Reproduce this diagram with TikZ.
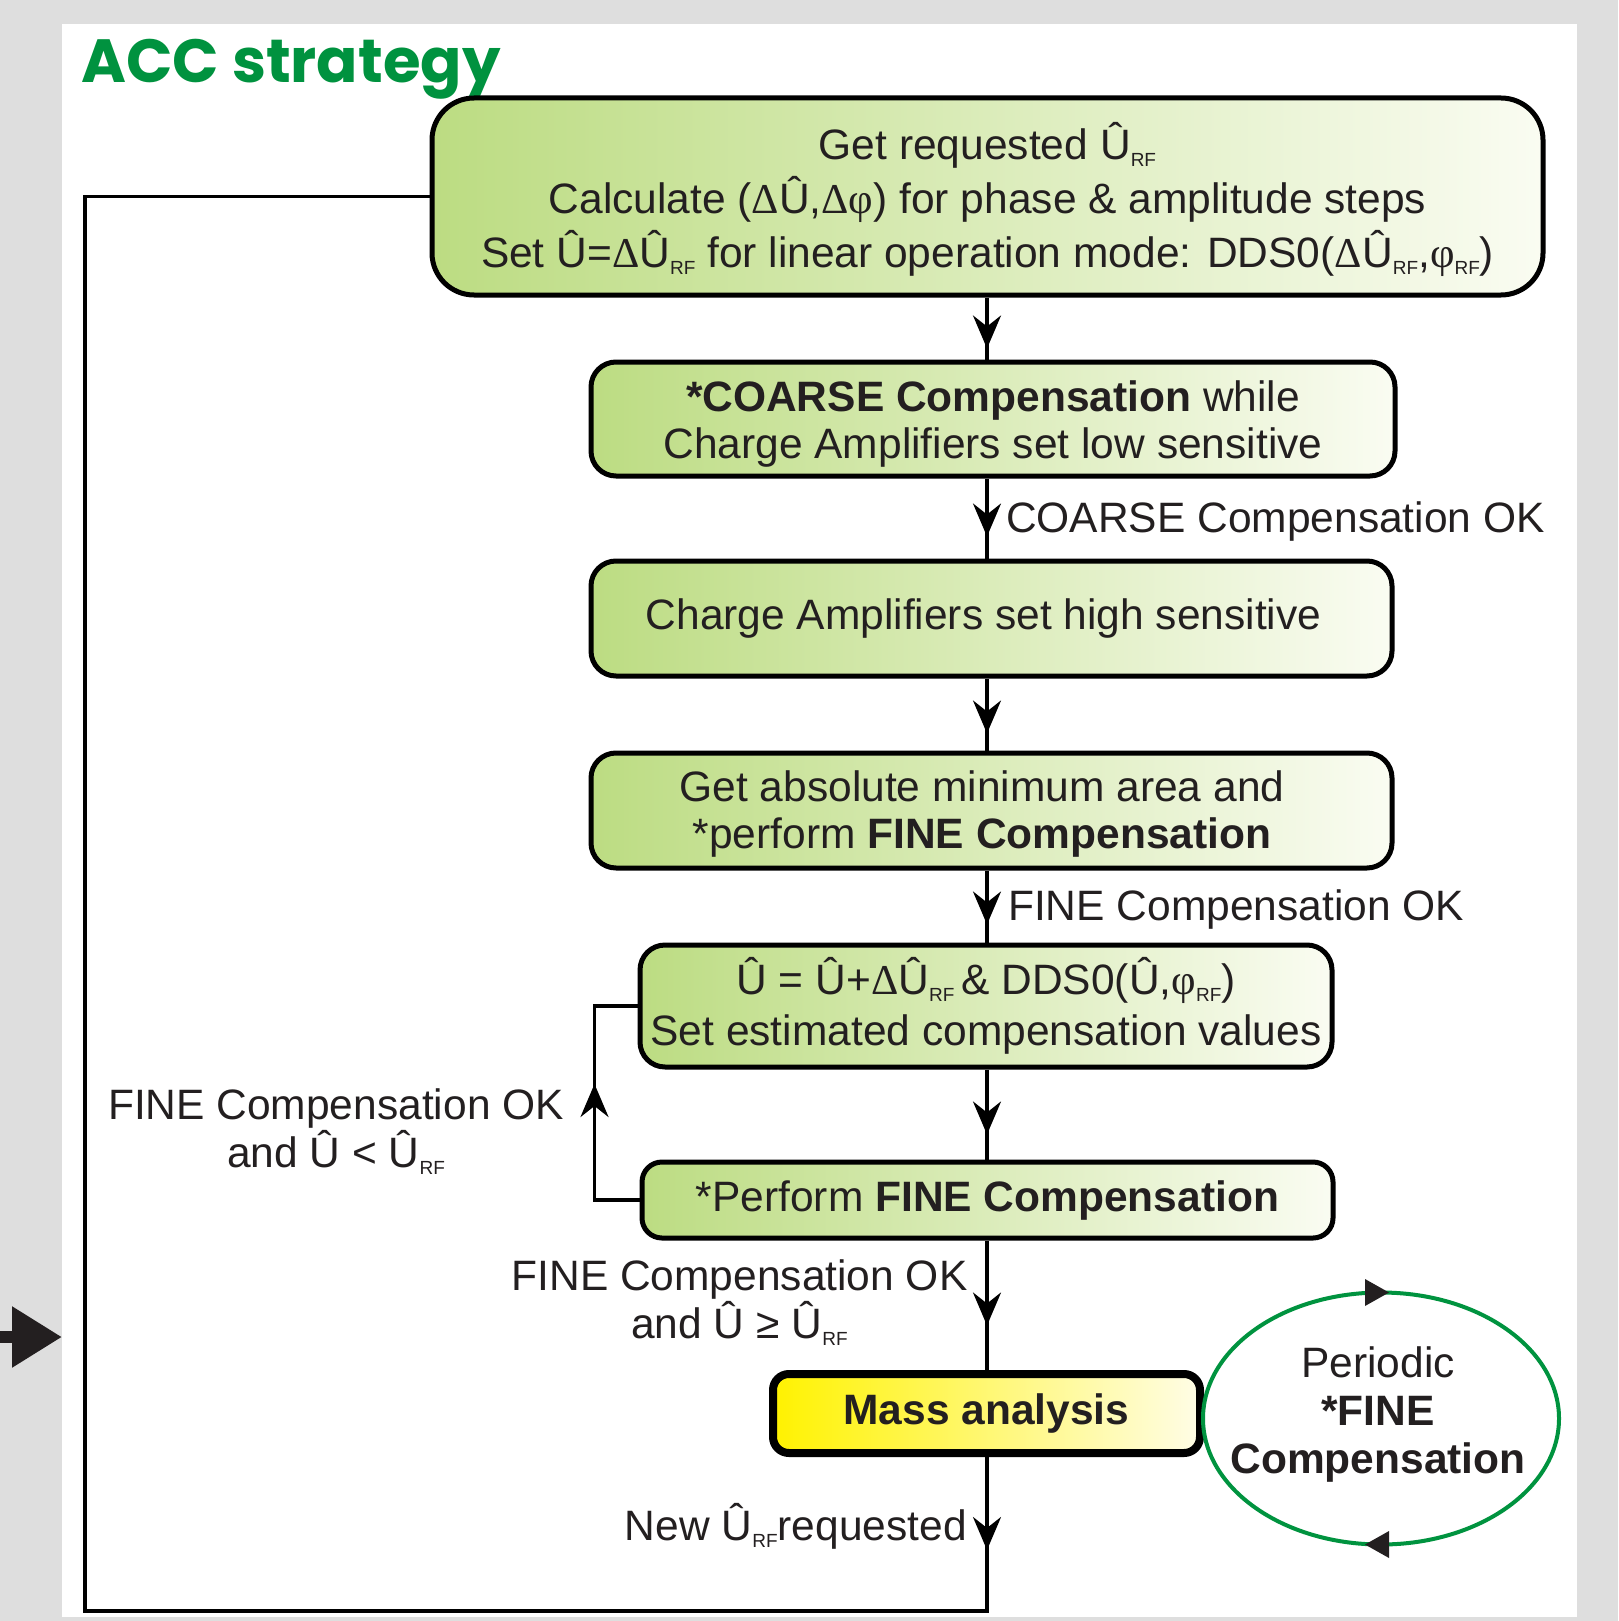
\documentclass[tikz,border=0pt]{standalone}
\usepackage{fontspec}
\setmainfont{Liberation Sans}
\newfontfamily\grfont{Liberation Serif}
\newfontfamily\titlefont{Poppins}
\usetikzlibrary{arrows.meta,shapes.geometric,decorations.markings}
\definecolor{txt}{HTML}{231F20}
\definecolor{titlegreen}{HTML}{00923F}
\definecolor{ellgreen}{HTML}{00933F}
\definecolor{bgL}{RGB}{188,220,130}
\definecolor{bgR}{RGB}{250,252,242}
\definecolor{yL}{RGB}{255,242,0}
\definecolor{yR}{RGB}{255,253,230}
\definecolor{panelgray}{HTML}{DEDEDE}
\newcommand\sub[1]{\raisebox{-7pt}{\fontsize{19}{19}\selectfont #1}}
\newcommand\gr[1]{{\grfont #1}}
\newcommand\tallstrut[1]{\rule{0pt}{#1}}
\begin{document}
\begin{tikzpicture}[x=1pt,y=-1pt,
  stepbox/.style={draw=black, line width=5pt, rounded corners=25pt, left color=bgL, right color=bgR,
    inner sep=0pt, align=center, font=\fontsize{42.5}{47}\selectfont, text=txt},
  massbox/.style={draw=black, line width=8pt, rounded corners=16pt, left color=yL, right color=yR,
    inner sep=0pt, align=center, font=\fontsize{42.5}{47}\selectfont\bfseries, text=txt},
  conn/.style={line width=3.5pt, draw=black},
  midarrow/.style={postaction={decorate,decoration={markings,mark=at position #1 with {\arrow{Stealth[length=33pt,width=28pt,inset=11pt]}}}}},
  lbl/.style={inner sep=0pt, text=txt, align=center, font=\fontsize{42.5}{48}\selectfont}]
\useasboundingbox (0,0) rectangle (1618,1621);
\fill[panelgray] (0,0) rectangle (1618,1621);
\fill[white] (62,24) rectangle (1577,1617);

\node[anchor=base west, inner sep=0pt, text=titlegreen, font=\titlefont\bfseries\fontsize{61}{61}\selectfont] (title) at (81,83) {ACC strategy};

\coordinate (axis) at (987,0);

\node[stepbox, rounded corners=42pt, minimum width=1111pt, minimum height=197pt, font=\fontsize{42.5}{54}\selectfont] (b1) at (987.5,196.5)
  {\tallstrut{43pt}Get requested Û\sub{RF}\\
   Calculate (\gr{Δ}Û,\gr{Δφ}) for phase \& amplitude steps\\
   Set Û=\gr{Δ}Û\sub{RF} for linear operation mode: DDS0(\gr{Δ}Û\sub{RF},\gr{φ}\sub{RF})};
\node[stepbox, minimum width=804pt, minimum height=114pt] (b2) at (993,419)
  {\tallstrut{40pt}\textbf{*COARSE Compensation} while\\Charge Amplifiers set low sensitive};
\node[stepbox, minimum width=801pt, minimum height=115pt] (b3) at (991.5,618.5)
  {\hspace*{-16pt}Charge Amplifiers set high sensitive};
\node[stepbox, minimum width=801pt, minimum height=115pt] (b4) at (991.5,810.5)
  {\tallstrut{38pt}\hspace*{-19pt}Get absolute minimum area and\\\hspace*{-19pt}*perform \textbf{FINE Compensation}};
\node[stepbox, minimum width=692pt, minimum height=122pt, font=\fontsize{42.5}{51}\selectfont] (b5) at (986,1006)
  {Û = Û+\gr{Δ}Û\sub{RF}\,\& DDS0(Û,\gr{φ}\sub{RF})\\Set estimated compensation values};
\node[stepbox, rounded corners=20pt, minimum width=691pt, minimum height=76pt] (b6) at (987.5,1200)
  {*Perform \textbf{FINE Compensation}};
\node[massbox, minimum width=427pt, minimum height=79pt] (mass) at (986.5,1413.5) {Mass analysis};

\node[ellipse, draw=ellgreen, line width=4pt, minimum width=356pt, minimum height=252pt, inner sep=0pt] (ell) at (1381,1418.5) {};
\node[lbl, anchor=north, font=\fontsize{42.5}{48}\selectfont] (elltxt) at (1378,1346) {Periodic\\\textbf{*FINE}\\\textbf{Compensation}};
\fill[txt] (1365,1279) -- (1389,1292.5) -- (1365,1306) -- cycle;
\fill[txt] (1389,1531) -- (1365,1544.5) -- (1389,1558) -- cycle;

% connectors
\draw[conn, midarrow=51pt] (b1.south -| axis) -- (b2.north -| axis);
\draw[conn, midarrow=58pt] (b2.south -| axis) -- (b3.north -| axis);
\draw[conn, midarrow=55pt] (b3.south -| axis) -- (b4.north -| axis);
\draw[conn, midarrow=54pt] (b4.south -| axis) -- (b5.north -| axis);
\draw[conn, midarrow=65pt] (b5.south -| axis) -- (b6.north -| axis);
\draw[conn, midarrow=85pt] (b6.south -| axis) -- (mass.north -| axis);

\coordinate (loopx) at (594.5,0);
\draw[conn, midarrow=161pt] (b6.west) -- (b6.west -| loopx) -- (b5.west -| loopx) -- (b5.west);

\coordinate (fbBR) at (987,1611);
\coordinate (fbBL) at (85,1611);
\draw[conn, midarrow=93pt] (mass.south -| axis) -- (fbBR) -- (fbBL) -- (fbBL |- b1.west) -- (b1.west);

% labels
\node[lbl, anchor=base west] (lc) at (1006,532) {COARSE Compensation OK};
\node[lbl, anchor=base west] (lf) at (1008,920) {FINE Compensation OK};
\node[lbl, anchor=north] (lloop) at (336,1088) {FINE Compensation OK\\and Û < Û\sub{RF}};
\node[lbl, anchor=north] (ldone) at (739.5,1259) {FINE Compensation OK\\and Û ≥ Û\sub{RF}};
\node[lbl, anchor=base east] (lnew) at (967,1540) {New Û\sub{RF}requested};

% incoming arrow
\coordinate (inL) at (0,1337);
\coordinate (inR) at (62,1337);
\draw[txt, line width=12pt, -{Triangle[length=50pt,width=58pt]}] (inL) -- (inR);
\end{tikzpicture}
\end{document}
